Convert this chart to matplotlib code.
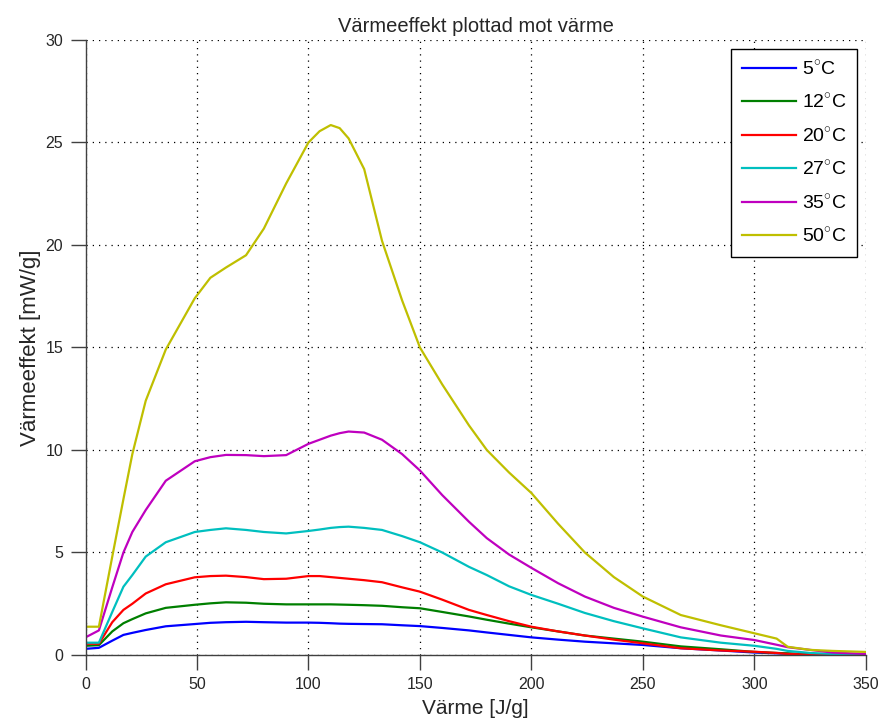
import matplotlib.pyplot as plt

plt.rcParams['font.family'] = ['Liberation Sans', 'DejaVu Sans']
plt.rcParams['mathtext.fontset'] = 'custom'
plt.rcParams['mathtext.rm'] = 'Liberation Sans'

# heat [J/g]
x = [0, 6, 12, 17, 21, 27, 36, 49, 56, 63, 72, 80, 90, 100, 105, 110, 114, 118,
     125, 133, 142, 150, 160, 172, 180, 190, 200, 212, 224, 237, 250, 267, 285,
     300, 310, 315, 325, 335, 350]

# heat output [mW/g]
p_5 = [0.3, 0.35, 0.7, 0.98, 1.08, 1.22, 1.4, 1.51, 1.57, 1.6, 1.62, 1.6, 1.58,
       1.58, 1.57, 1.55, 1.53, 1.52, 1.51, 1.5, 1.45, 1.41, 1.32, 1.2, 1.1, 0.98,
       0.86, 0.75, 0.65, 0.57, 0.49, 0.33, 0.22, 0.12, 0.08, 0.06, 0.03, 0.02, 0.0]
p_12 = [0.45, 0.48, 1.15, 1.55, 1.75, 2.03, 2.3, 2.45, 2.52, 2.57, 2.55, 2.5, 2.47,
        2.47, 2.47, 2.47, 2.46, 2.45, 2.43, 2.4, 2.33, 2.28, 2.1, 1.88, 1.72, 1.53,
        1.35, 1.15, 0.95, 0.8, 0.65, 0.42, 0.28, 0.15, 0.1, 0.08, 0.03, 0.02, 0.0]
p_20 = [0.55, 0.55, 1.6, 2.2, 2.5, 3.0, 3.45, 3.79, 3.85, 3.87, 3.8, 3.7, 3.72,
        3.85, 3.85, 3.8, 3.76, 3.72, 3.65, 3.55, 3.3, 3.09, 2.7, 2.2, 1.95, 1.65,
        1.38, 1.15, 0.95, 0.75, 0.57, 0.33, 0.22, 0.16, 0.1, 0.05, 0.02, 0.0, 0.0]
p_27 = [0.6, 0.6, 2.1, 3.33, 3.9, 4.8, 5.5, 6.0, 6.1, 6.18, 6.1, 6.0, 5.93,
        6.05, 6.12, 6.2, 6.24, 6.26, 6.2, 6.1, 5.8, 5.5, 5.0, 4.3, 3.9, 3.35,
        2.93, 2.5, 2.05, 1.65, 1.3, 0.86, 0.6, 0.45, 0.3, 0.2, 0.1, 0.05, 0.02]
p_35 = [0.86, 1.2, 3.3, 5.0, 6.0, 7.07, 8.5, 9.45, 9.65, 9.76, 9.75, 9.7, 9.75,
        10.3, 10.5, 10.7, 10.82, 10.9, 10.85, 10.5, 9.8, 9.0, 7.8, 6.5, 5.7, 4.9,
        4.25, 3.5, 2.85, 2.3, 1.87, 1.35, 0.95, 0.73, 0.5, 0.38, 0.25, 0.12, 0.05]
p_50 = [1.38, 1.38, 4.8, 7.6, 9.8, 12.4, 14.9, 17.4, 18.4, 18.9, 19.5, 20.8, 23.0,
        25.0, 25.55, 25.85, 25.7, 25.2, 23.7, 20.2, 17.3, 15.0, 13.2, 11.2, 10.0,
        8.9, 7.9, 6.4, 5.0, 3.8, 2.85, 1.95, 1.45, 1.06, 0.8, 0.4, 0.25, 0.2, 0.15]

labels = ['5$^{\\circ}$C', '12$^{\\circ}$C', '20$^{\\circ}$C', '27$^{\\circ}$C',
          '35$^{\\circ}$C', '50$^{\\circ}$C']
colors = ['#0000ff', '#007f00', '#ff0000', '#00bfbf', '#bf00bf', '#bfbf00']

fig = plt.figure(figsize=(8.88, 7.24), dpi=100)
ax = fig.add_axes([0.0963, 0.0953, 0.8787, 0.8495])

for y, c, lab in zip([p_5, p_12, p_20, p_27, p_35, p_50], colors, labels):
    ax.plot(x, y, color=c, linewidth=1.6, label=lab)

ax.set_xlim(0, 350)
ax.set_ylim(0, 30)
ax.set_xticks(range(0, 351, 50))
ax.set_yticks(range(0, 31, 5))

ax.grid(True, color='black', linestyle=(0, (1, 4)), linewidth=0.9)
for s in ['top', 'right']:
    ax.spines[s].set_visible(False)
for s in ['left', 'bottom']:
    ax.spines[s].set_color('#404040')
    ax.spines[s].set_linewidth(1.0)
ax.tick_params(direction='out', length=11, width=1, color='#404040',
               labelsize=11.5, labelcolor='#262626', pad=5)

ax.set_title('Värmeeffekt plottad mot värme', fontsize=14.5, color='#262626', pad=6)
ax.set_xlabel('Värme [J/g]', fontsize=15, color='#262626', labelpad=5)
ax.set_ylabel('Värmeeffekt [mW/g]', fontsize=16, color='#262626', labelpad=3)

leg = ax.legend(loc='upper right', fontsize=14, handlelength=2.8,
                handletextpad=0.3, labelspacing=0.75, borderpad=0.55,
                borderaxespad=0.45, fancybox=False, edgecolor='black',
                framealpha=1)
leg.get_frame().set_linewidth(1.0)

plt.savefig('out.png', dpi=100)
